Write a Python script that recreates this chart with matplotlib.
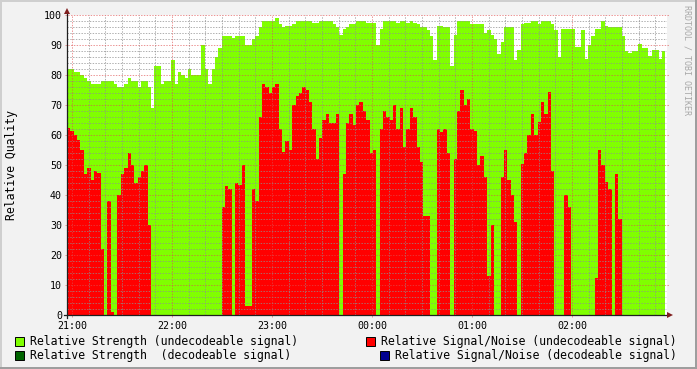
import numpy as np
import matplotlib
matplotlib.use("Agg")
import matplotlib.pyplot as plt
from matplotlib.patches import Rectangle

W, H = 697, 369
MONO = "DejaVu Sans Mono"

# ---------------- data ----------------
start_min = -3.0            # 20:57, minutes relative to 21:00
step_min = 121 / 60.0       # consolidation step

strength = [
    82, 82, 81, 81, 80, 79, 78, 77, 77, 77,
    78, 78, 78, 78, 77, 76, 76, 77, 79, 78,
    78, 76, 78, 78, 76, 69, 83, 83, 77, 78,
    78, 85, 77, 81, 80, 79, 82, 80, 80, 80,
    90, 82, 77, 82, 86, 89, 93, 93, 93, 92.5,
    93, 93, 93, 90, 90, 92, 93, 96, 98, 98,
    98, 98, 99, 97, 96, 96.5, 96.5, 97, 98, 98,
    98, 98, 98, 97.5, 97.5, 98, 98, 98, 98, 97,
    96, 93.5, 95.5, 96, 97, 97, 98, 98, 98, 97.5,
    97.5, 97.5, 90, 95.5, 98, 98, 98, 98, 97.5, 98,
    98, 97.5, 98, 97.5, 97, 96, 96, 95, 93, 85,
    96.5, 96.5, 96, 96, 83, 93.5, 98, 98, 98, 98,
    97, 97, 97, 97, 94, 95, 93.5, 92, 87, 91,
    96, 96, 96, 85, 88.5, 97, 97.5, 97.5, 98, 98,
    97, 98, 98, 98, 97, 95, 86, 95.5, 95.5, 95.5,
    95.5, 89.5, 89.5, 95, 85.5, 90, 93, 95.5, 95.5, 98,
    96.5, 96, 96, 96, 96, 93, 88, 87.5, 88, 88,
    90.5, 89, 89, 86.5, 88.5, 88.5, 85.5, 88,
]

snr = [
    62.5, 61.5, 60, 58.5, 55, 47, 49, 45, 48, 47.5,
    22, 0, 38, 1, 0, 40, 47, 49, 54, 50,
    44, 46, 48, 50, 30, 0, 0, 0, 0, 0,
    0, 0, 0, 0, 0, 0, 0, 0, 0, 0,
    0, 0, 0, 0, 0, 0, 36, 43, 42, 0,
    44, 43.5, 50, 3, 3, 42, 38, 66, 77, 76,
    74, 76, 77, 62, 54.5, 58, 55, 70, 73, 74,
    76, 75, 71, 62, 52, 59, 65, 67, 64, 64,
    67, 0, 47, 64, 67, 63.5, 70, 71, 68, 65,
    54, 55, 0, 62, 68, 66, 65, 70, 62, 69,
    56, 62, 69, 66, 56, 51, 33, 33, 0, 0,
    62, 61, 62, 54, 0, 52, 68, 75, 70, 72,
    62, 61.5, 50, 53, 46, 13, 30, 0, 0, 46,
    55, 45, 40, 31, 0, 50.5, 54, 60, 67, 60,
    64.5, 71, 67, 74.5, 48, 0, 0, 0, 40, 36,
    0, 0, 0, 0, 0, 0, 0, 12.5, 55, 50,
    44.5, 42, 0, 47, 32, 0, 0, 0, 0, 0,
    0, 0, 0, 0, 0, 0, 0, 0,
]

hour_ticks = [0, 60, 120, 180, 240, 300]
hour_labels = ["21:00", "22:00", "23:00", "00:00", "01:00", "02:00"]
y_ticks = [0, 10, 20, 30, 40, 50, 60, 70, 80, 90, 100]

legend_labels = [
    "Relative Strength (undecodeable signal)",
    "Relative Signal/Noise (undecodeable signal)",
    "Relative Strength  (decodeable signal)",
    "Relative Signal/Noise (decodeable signal)",
]
legend_colors = ["#80FF00", "#FF0000", "#006400", "#000090"]

# ---------------- style ----------------
BACK = "#F2F2F2"
SHADEA = "#CFCFCF"
SHADEB = "#9E9E9E"
GRID = (0.56, 0.56, 0.56, 0.7)
MGRID = (0.87, 0.31, 0.31, 0.6)
ARROW = (0.50, 0.12, 0.12)
AXIS = (0.12, 0.12, 0.12)
GREEN = "#80FF00"
RED = "#FF0000"

fig = plt.figure(figsize=(W / 100, H / 100), dpi=100)
fig.patch.set_facecolor(BACK)


def fx(px):
    return px / W


def fy(py):
    return 1 - py / H


# frame shading
fig.add_artist(Rectangle((0, fy(2)), 1, 2 / H, transform=fig.transFigure, color=SHADEA, lw=0))
fig.add_artist(Rectangle((0, 0), 2 / W, 1, transform=fig.transFigure, color=SHADEA, lw=0))
fig.add_artist(Rectangle((0, 0), 1, 2 / H, transform=fig.transFigure, color=SHADEB, lw=0))
fig.add_artist(Rectangle((fx(W - 2), 0), 2 / W, 1, transform=fig.transFigure, color=SHADEB, lw=0))

XMIN, XMAX = -3.0, 357.0
ax = fig.add_axes([fx(67), fy(315), 600 / W, 300 / H])
ax.set_xlim(XMIN, XMAX)
ax.set_ylim(0, 100)
ax.set_facecolor("white")
for s in ax.spines.values():
    s.set_visible(False)

PXX = (XMAX - XMIN) / 600.0   # minutes per pixel
PXY = 100 / 300.0             # units per pixel

n = len(strength)
edges = start_min + step_min * np.arange(n + 1)
s_ext = np.append(strength, strength[-1])
r_ext = np.append(snr, snr[-1])
ax.fill_between(edges, 0, s_ext, step="post", color=GREEN, lw=0, zorder=1)
ax.fill_between(edges, 0, r_ext, step="post", color=RED, lw=0, zorder=2)

# grid (drawn over the data, rrdtool style)
dash = (0, (1.4, 1.4))
for y in range(2, 100, 2):
    if y % 10:
        ax.hlines(y, XMIN, XMAX, colors=[GRID], lw=0.72, linestyles=[dash], zorder=3)
for m in range(10, 357, 10):
    if m % 60:
        ax.vlines(m, 0, 100, colors=[GRID], lw=0.72, linestyles=[dash], zorder=3)
for y in y_ticks[1:]:
    ax.hlines(y, XMIN - 2 * PXX, XMAX + 2 * PXX, colors=[MGRID], lw=0.72,
              linestyles=[dash], zorder=4, clip_on=False)
for m in hour_ticks:
    ax.vlines(m, -2 * PXY, 100, colors=[MGRID], lw=0.72, linestyles=[dash], zorder=4, clip_on=False)

# axes lines + arrows
ax.plot([XMIN - 3 * PXX, XMAX + 1 * PXX], [0, 0], color=AXIS, lw=0.9, zorder=5, clip_on=False)
ax.plot([XMIN, XMIN], [-3 * PXY, 100 + 1 * PXY], color=AXIS, lw=0.9, zorder=5, clip_on=False)
ax.fill([XMAX, XMAX + 6 * PXX, XMAX], [-3 * PXY, 0, 3 * PXY], color=ARROW, lw=0,
        zorder=6, clip_on=False)
ax.fill([XMIN - 3 * PXX, XMIN, XMIN + 3 * PXX], [100 + 1 * PXY, 100 + 7 * PXY, 100 + 1 * PXY],
        color=ARROW, lw=0, zorder=6, clip_on=False)

ax.set_xticks(hour_ticks)
ax.set_xticklabels(hour_labels, fontsize=7.2, family=MONO)
ax.set_yticks(y_ticks)
ax.set_yticklabels([str(v) for v in y_ticks], fontsize=7.2, family=MONO)
ax.tick_params(axis="y", length=0, pad=3.6)
ax.tick_params(axis="x", length=0, pad=4.0)

fig.text(fx(12), fy(165), "Relative Quality", rotation=90, ha="center", va="center",
         fontsize=8.3, family=MONO)

fig.text(fx(687), fy(5), "RRDTOOL / TOBI OETIKER", rotation=270, ha="center", va="top",
         fontsize=6.0, family=MONO, color="#A8A8A8")

# legend
leg_pos = [(15, 341), (366, 341), (15, 355), (380, 355)]
for (px, py), lab, col in zip(leg_pos, legend_labels, legend_colors):
    fig.add_artist(Rectangle((fx(px), fy(py + 4.5)), 9 / W, 9 / H, transform=fig.transFigure,
                             facecolor=col, edgecolor="black", lw=0.7))
    fig.text(fx(px + 15), fy(py), lab, ha="left", va="center", fontsize=8.3, family=MONO)

fig.savefig("out.png", dpi=100, facecolor=BACK)
